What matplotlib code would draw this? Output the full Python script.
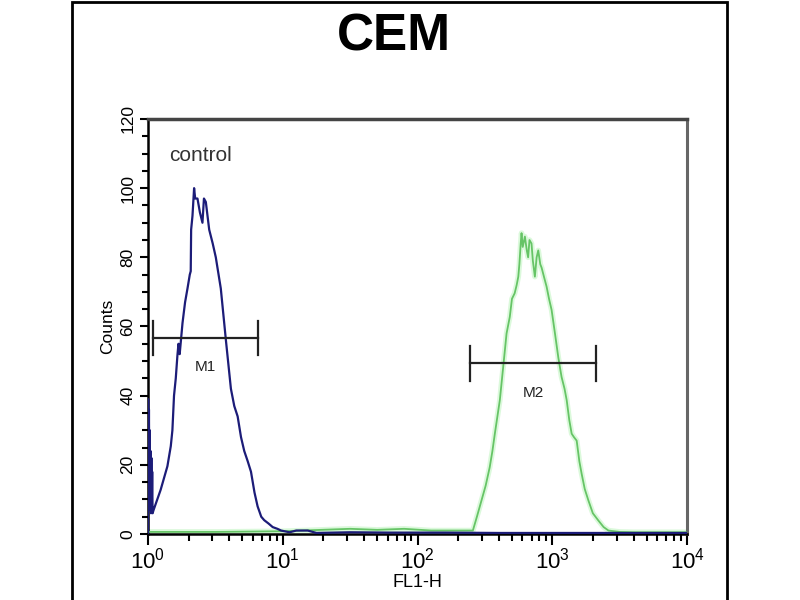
import numpy as np
import matplotlib
matplotlib.use("Agg")
import matplotlib.pyplot as plt
from matplotlib.patches import Rectangle
from matplotlib.ticker import LogLocator, MultipleLocator, LogFormatterMathtext, NullFormatter

plt.rcParams['font.family'] = ['Liberation Sans', 'DejaVu Sans']
plt.rcParams['mathtext.fontset'] = 'custom'
plt.rcParams['mathtext.rm'] = 'Liberation Sans'
plt.rcParams['mathtext.default'] = 'regular'

# control histogram (blue), x given as log10(FL1-H)
control_log = [0.000, 0.001, 0.004, 0.007, 0.010, 0.013, 0.016, 0.019, 0.022, 0.025,
               0.028, 0.031, 0.034, 0.042, 0.094, 0.144, 0.169, 0.181, 0.193, 0.206,
               0.218, 0.226, 0.235, 0.256, 0.275, 0.293, 0.310, 0.317, 0.320, 0.330,
               0.342, 0.350, 0.367, 0.385, 0.404, 0.415, 0.429, 0.454, 0.480, 0.503,
               0.540, 0.578, 0.615, 0.640, 0.665, 0.690, 0.714, 0.740, 0.764, 0.790,
               0.813, 0.840, 0.862, 0.895, 0.925, 0.960, 0.987, 1.050, 1.100, 1.185,
               1.250, 1.500, 1.800, 2.200, 2.600, 3.000, 3.500, 4.000]
control_counts = [0, 39, 8, 36, 10, 30, 7, 24, 6, 22,
                  8, 18, 6, 7, 12.8, 19.6, 25.4, 30, 40, 45,
                  51.5, 55, 52, 61, 67, 71, 75, 76, 88, 92,
                  100, 97, 97, 93, 90, 97, 96, 88, 84, 80,
                  71, 56, 42, 37, 34, 28, 24, 21, 18, 12,
                  8, 5, 4, 3, 2, 1.5, 1, 0.5, 1, 1,
                  0.3, 0.5, 0.4, 0.4, 0.3, 0.3, 0.3, 0.3]

# stained histogram (green)
sample_log = [0.000, 0.500, 1.000, 1.500, 1.700, 1.900, 2.100, 2.300, 2.410, 2.440,
              2.474, 2.505, 2.535, 2.555, 2.573, 2.610, 2.635, 2.660, 2.684, 2.700,
              2.720, 2.735, 2.747, 2.755, 2.765, 2.771, 2.780, 2.796, 2.810, 2.820,
              2.830, 2.845, 2.855, 2.870, 2.883, 2.895, 2.910, 2.920, 2.940, 2.957,
              2.975, 2.994, 3.019, 3.044, 3.068, 3.090, 3.106, 3.125, 3.143, 3.160,
              3.180, 3.200, 3.217, 3.240, 3.267, 3.300, 3.341, 3.380, 3.416, 3.500,
              3.610, 4.000]
sample_counts = [0.6, 0.6, 0.8, 1.5, 1.2, 1.5, 1.0, 1.0, 1, 5,
                 9.7, 14, 19.3, 24, 29, 38.7, 48.3, 58, 62.8, 68,
                 69.6, 72, 74.4, 78, 84, 87, 83, 86, 82, 80,
                 85, 84, 79, 74.4, 80, 82, 78, 77, 74, 71.5,
                 68, 64.8, 58, 51, 45.4, 42, 38.7, 33, 29, 28,
                 27, 21, 17.4, 13, 9.7, 6, 3.9, 2, 1, 0.6,
                 0.5, 0.5]

m1_range = [0.035, 0.818]   # log10 ends
m1_level = 56.7
m2_range = [2.392, 3.321]
m2_level = 49.3

fig = plt.figure(figsize=(8, 6), dpi=100)
ax = fig.add_axes([0.185, 0.11, 0.674, 0.6917])

cx = 10 ** np.array(control_log)
sx = 10 ** np.array(sample_log)

ax.plot(sx, sample_counts, color='#c4f5c4', lw=4, alpha=0.6, zorder=2)
ax.plot(sx, sample_counts, color='#66c466', lw=1.3, zorder=3)
ax.plot(cx, control_counts, color='#1c1c78', lw=1.6, zorder=4)

# marker bars
for rng, lvl, name in [(m1_range, m1_level, 'M1'), (m2_range, m2_level, 'M2')]:
    x0, x1 = 10 ** rng[0], 10 ** rng[1]
    ax.plot([x0, x1], [lvl, lvl], color='#222222', lw=1.6, zorder=5)
    ax.plot([x0, x0], [lvl - 5, lvl + 5], color='#222222', lw=1.6, zorder=5)
    ax.plot([x1, x1], [lvl - 5, lvl + 5], color='#222222', lw=1.6, zorder=5)
    xm = 10 ** ((rng[0] + rng[1]) / 2)
    ax.text(xm, lvl - 8.5, name, ha='center', va='center', fontsize=11, color='#222222')

ax.text(10 ** 0.154, 109.5, 'control', ha='left', va='center', fontsize=15, color='#333333')

ax.set_xscale('log')
ax.set_xlim(1, 10000)
ax.set_ylim(0, 120)

ax.xaxis.set_major_locator(LogLocator(base=10))
ax.xaxis.set_minor_locator(LogLocator(base=10, subs=np.arange(2, 10)))
ax.xaxis.set_major_formatter(LogFormatterMathtext())
ax.xaxis.set_minor_formatter(NullFormatter())
ax.yaxis.set_major_locator(MultipleLocator(20))
ax.yaxis.set_minor_locator(MultipleLocator(5))

ax.tick_params(axis='x', which='major', direction='out', length=8, width=1.5, labelsize=16, pad=2)
ax.tick_params(axis='x', which='minor', direction='out', length=5, width=1.5)
ax.tick_params(axis='y', which='major', direction='out', length=6, width=1.5, labelsize=12.5, pad=3)
ax.tick_params(axis='y', which='minor', direction='out', length=4, width=1.5)
for lab in ax.get_yticklabels():
    lab.set_rotation(90)
    lab.set_va('center')

ax.set_xlabel('FL1-H', fontsize=13, labelpad=0)
ax.set_ylabel('Counts', fontsize=12.5, labelpad=4)

ax.spines['left'].set_linewidth(1.8)
ax.spines['bottom'].set_linewidth(1.8)
ax.spines['top'].set_linewidth(2.5)
ax.spines['top'].set_color('#444444')
ax.spines['right'].set_linewidth(2.2)
ax.spines['right'].set_color('#666666')

fig.text(0.4925, 1 - 37 / 600, 'CEM', fontsize=37, fontweight='bold', ha='center', va='center')

fig.add_artist(Rectangle((72 / 800, -0.05), (727 - 72) / 800, 1.05 - 2 / 600,
                         transform=fig.transFigure, fill=False, lw=2, ec='black'))

fig.savefig('out.png', dpi=100)
